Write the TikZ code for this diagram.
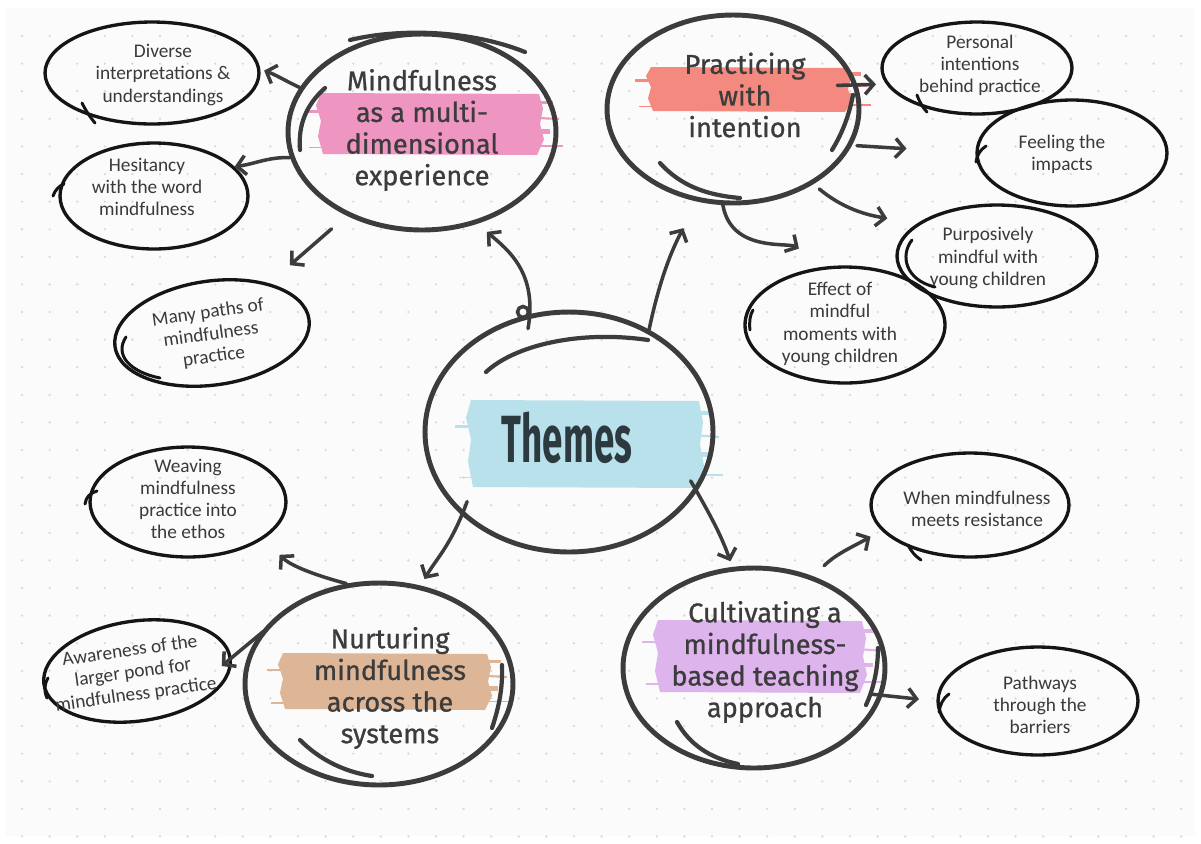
\documentclass[tikz,border=0pt]{standalone}
\usepackage{fontspec}
\usepackage{graphicx}
\usetikzlibrary{shapes.geometric,arrows.meta}
\newfontfamily\headfont{Fira Sans}[FakeBold=0.8]
\newfontfamily\themefont{Fira Sans}
\newfontfamily\notefont{Carlito}
\definecolor{ink}{HTML}{3C3C3C}
\definecolor{notec}{HTML}{3A3A3A}
\definecolor{ringc}{HTML}{151515}
\definecolor{paper}{HTML}{FBFBFB}
\definecolor{dotc}{HTML}{DADADA}
\definecolor{pinkbr}{HTML}{EE95C2}
\definecolor{coralbr}{HTML}{F4897F}
\definecolor{bluebr}{HTML}{B9E1EB}
\definecolor{tanbr}{HTML}{DDB597}
\definecolor{lilacbr}{HTML}{DDB4EC}
\definecolor{themec}{HTML}{2C3A40}

% brush-stroke highlight: left, top, right, bottom (pixel rows), colour
\newcommand\brushmark[5]{%
  \pgfmathsetmacro\brushh{(#4)-(#2)}%
  \fill[#5] ({#1+6},{-(#2)}) -- ({#3-6},{-(#2)-1}) -- ({#3-2},{-(#2)-0.25*\brushh})
    -- ({#3-5},{-(#2)-0.5*\brushh}) -- ({#3-1},{-(#2)-0.75*\brushh})
    -- ({#3-8},{-(#4)}) -- ({#1+8},{-(#4)+1}) -- ({#1+3},{-(#2)-0.7*\brushh})
    -- ({#1+6},{-(#2)-0.45*\brushh}) -- ({#1+1},{-(#2)-0.2*\brushh}) -- cycle;
  \draw[#5,line width=2pt] ({#3-10},{-(#2)-0.15*\brushh}) -- ({#3+8},{-(#2)-0.15*\brushh});
  \draw[#5,line width=1.2pt] ({#3-10},{-(#2)-0.4*\brushh}) -- ({#3+14},{-(#2)-0.42*\brushh});
  \draw[#5,line width=2.5pt] ({#3-10},{-(#2)-0.62*\brushh}) -- ({#3+5},{-(#2)-0.62*\brushh});
  \draw[#5,line width=1pt] ({#3-10},{-(#2)-0.85*\brushh}) -- ({#3+18},{-(#2)-0.85*\brushh});
  \draw[#5,line width=1.5pt] ({#1+10},{-(#2)-0.3*\brushh}) -- ({#1-10},{-(#2)-0.3*\brushh});
  \draw[#5,line width=1pt] ({#1+10},{-(#2)-0.88*\brushh}) -- ({#1-6},{-(#2)-0.88*\brushh});
}

\tikzset{
  mainring/.style={ellipse, draw=ink, line width=2.8pt, inner sep=0pt},
  subring/.style={ellipse, draw=ringc, line width=1.9pt, inner sep=0pt},
  headtext/.style={font=\headfont\fontsize{15.5}{18}\selectfont, text=ink, align=center, inner sep=0pt},
  notetext/.style={font=\notefont\fontsize{11}{12.6}\selectfont, text=notec, align=center, inner sep=0pt},
  arr/.style={draw=ink, line width=2pt, line cap=round, -{Straight Barb[length=5pt,width=11pt]}},
  sketch/.style={draw=ink, line width=2.4pt, line cap=round},
  sketchthin/.style={draw=ringc, line width=1.7pt, line cap=round},
}

\begin{document}
\begin{tikzpicture}[x=0.02cm,y=0.02cm]
\useasboundingbox (0,0) rectangle (1201,-843);
\fill[white] (0,0) rectangle (1201,-843);
\fill[paper] (6,-8) rectangle (1195,-836);
\foreach \i in {0,...,42} \foreach \j in {0,...,29}
  \fill[dotc] ({22+27.6*\i},{-36-27.6*\j}) circle[radius=1.3];

% brush highlights behind the theme titles
\brushmark{315}{93}{545}{155}{pinkbr}
\brushmark{645}{67}{853}{112}{coralbr}
\brushmark{465}{400}{705}{488}{bluebr}
\brushmark{277}{653}{493}{710}{tanbr}
\brushmark{652}{620}{868}{693}{lilacbr}

% main themes
\node[mainring, minimum width=5.36cm, minimum height=3.92cm] (m1) at (422,-132) {};
\node[mainring, minimum width=5.04cm, minimum height=3.76cm] (m2) at (733,-109) {};
\node[mainring, minimum width=5.76cm, minimum height=4.8cm] (th) at (569,-432) {};
\node[mainring, minimum width=5.36cm, minimum height=4.04cm] (m3) at (379,-684) {};
\node[mainring, minimum width=5.24cm, minimum height=4.0cm] (m4) at (754,-668) {};

\node[headtext] (m1t) at (422,-130) {Mindfulness\\as a multi-\\dimensional\\experience};
\node[headtext] (m2t) at (745,-95) {Practicing\\with\\intention};
\node[font=\themefont\bfseries\fontsize{38}{38}\selectfont, text=themec, inner sep=0pt] (tht) at (567,-438) {\scalebox{0.55}[1]{Themes}};
\node[headtext] (m3t) at (390,-688) {Nurturing\\mindfulness\\across the\\systems};
\node[headtext] (m4t) at (765,-662) {Cultivating a\\mindfulness-\\based teaching\\approach};

% sub-themes
\node[subring, minimum width=4.28cm, minimum height=2.04cm] (div) at (152,-73) {};
\node[subring, minimum width=3.76cm, minimum height=2.12cm] (hes) at (154,-196) {};
\node[subring, minimum width=3.92cm, minimum height=2.08cm, rotate=8] (many) at (212,-333) {};
\node[subring, minimum width=3.8cm, minimum height=1.84cm] (pers) at (977,-68) {};
\node[subring, minimum width=3.8cm, minimum height=2.12cm] (feel) at (1072,-153) {};
\node[subring, minimum width=4.0cm, minimum height=2.04cm] (purp) at (997,-256) {};
\node[subring, minimum width=4.0cm, minimum height=2.32cm] (eff) at (845,-325) {};
\node[subring, minimum width=3.92cm, minimum height=2.2cm] (weav) at (188,-502) {};
\node[subring, minimum width=3.76cm, minimum height=2.0cm, rotate=8] (aware) at (137,-671) {};
\node[subring, minimum width=3.96cm, minimum height=2.08cm] (when) at (970,-505) {};
\node[subring, minimum width=4.0cm, minimum height=2.16cm] (path) at (1038,-701) {};

\node[notetext] (divt) at (163,-75) {Diverse\\interpretations \&\\understandings};
\node[notetext] (hest) at (147,-187) {Hesitancy\\with the word\\mindfulness};
\node[notetext, rotate=8] (manyt) at (211,-335) {Many paths of\\mindfulness\\practice};
\node[notetext] (perst) at (980,-65) {Personal\\intentions\\behind practice};
\node[notetext] (feelt) at (1062,-154) {Feeling the\\impacts};
\node[notetext] (purpt) at (988,-258) {Purposively\\mindful with\\young children};
\node[notetext] (efft) at (840,-324) {Effect of\\mindful\\moments with\\young children};
\node[notetext] (weavt) at (188,-499) {Weaving\\mindfulness\\practice into\\the ethos};
\node[notetext, rotate=8] (awaret) at (133,-673) {Awareness of the\\larger pond for\\mindfulness practice};
\node[notetext] (whent) at (977,-509) {When mindfulness\\meets resistance};
\node[notetext] (patht) at (1040,-705) {Pathways\\through the\\barriers};

% second pen strokes on the rings
\draw[sketch] (325,-88) .. controls (306,-105) and (298,-125) .. (300,-150);
\draw[sketch] (350,-40) .. controls (400,-28) and (470,-30) .. (525,-52);
\draw[sketch] (660,-163) .. controls (680,-185) and (705,-195) .. (740,-198);
\draw[sketch] (853,-95) .. controls (849,-115) and (843,-132) .. (832,-150);
\draw[sketch] (486,-372) .. controls (515,-345) and (580,-330) .. (648,-340);
\draw[sketch] (502,-665) .. controls (503,-690) and (498,-710) .. (492,-728);
\draw[sketch] (300,-740) .. controls (320,-760) and (345,-772) .. (372,-776);
\draw[sketch] (878,-648) .. controls (878,-670) and (873,-690) .. (866,-705);
\draw[sketch] (677,-722) .. controls (690,-745) and (710,-758) .. (738,-764);
% little pen loop where the upward connector leaves the centre ring
\draw[draw=ink, line width=2pt] (523,-312) circle[radius=5.5];

\draw[sketchthin] (82,-103) .. controls (86,-111) and (90,-117) .. (95,-123);
\draw[sketchthin] (53,-196) .. controls (55,-190) and (59,-186) .. (64,-184);
\draw[sketchthin] (126,-337) .. controls (114,-355) and (130,-372) .. (160,-378);
\draw[sketchthin] (917,-95) .. controls (920,-103) and (923,-108) .. (927,-112);
\draw[sketchthin] (986,-146) .. controls (980,-150) and (977,-155) .. (976,-162);
\draw[sketchthin] (912,-240) .. controls (900,-255) and (905,-280) .. (935,-287);
\draw[sketchthin] (753,-310) .. controls (750,-315) and (749,-322) .. (750,-330);
\draw[sketchthin] (85,-504) .. controls (86,-497) and (90,-493) .. (97,-491);
\draw[sketchthin] (48,-678) .. controls (44,-685) and (44,-691) .. (47,-698);
\draw[sketchthin] (908,-545) .. controls (911,-551) and (915,-556) .. (921,-560);
\draw[sketchthin] (939,-712) .. controls (940,-705) and (943,-698) .. (949,-694);

% connectors
\draw[arr,shorten >=0.08cm] (m1.160) to[out=155,in=-20] (div.2);
\draw[arr] (m1.191) to[out=178,in=8] (hes.20);
\draw[arr,shorten <=0.4cm,shorten >=0.55cm] (m1.228) -- (many);
\draw[arr,shorten <=-0.3cm,shorten >=0.25cm] (th.108) to[out=80,in=-40] (m1.301);
\draw[arr,shorten >=0.6cm] (th.52) to[out=78,in=-118] (m2.249);
\draw[arr,shorten <=-0.4cm,shorten >=0.2cm] (m2.11) -- (pers.190);
\draw[arr,shorten <=0.1cm,shorten >=1.38cm] (m2.343) -- (feel.west);
\draw[arr,shorten <=0.15cm,shorten >=0.6cm] (m2.317) to[out=-40,in=170] (purp.158);
\draw[arr,shorten >=0.7cm] (m2.264) to[out=-80,in=150] (eff.105);
\draw[arr,shorten <=-0.3cm,shorten >=0.15cm] (th.218) to[out=-110,in=60] (m3.67);
\draw[arr,shorten >=0.45cm] (m3.108) to[out=165,in=-45] (weav.-26);
\draw[arr,shorten <=-0.12cm,shorten >=-0.26cm] (m3.158) -- (aware.east);
\draw[arr,shorten <=-0.25cm,shorten >=0.12cm] (th.-25) to[out=-60,in=110] (m4.102);
\draw[arr,shorten <=0.3cm,shorten >=0.25cm] (m4.57) to[out=45,in=-150] (when.196);
\draw[arr,shorten <=-0.2cm,shorten >=0.35cm] (m4.-12) -- (path.west);
\end{tikzpicture}
\end{document}
